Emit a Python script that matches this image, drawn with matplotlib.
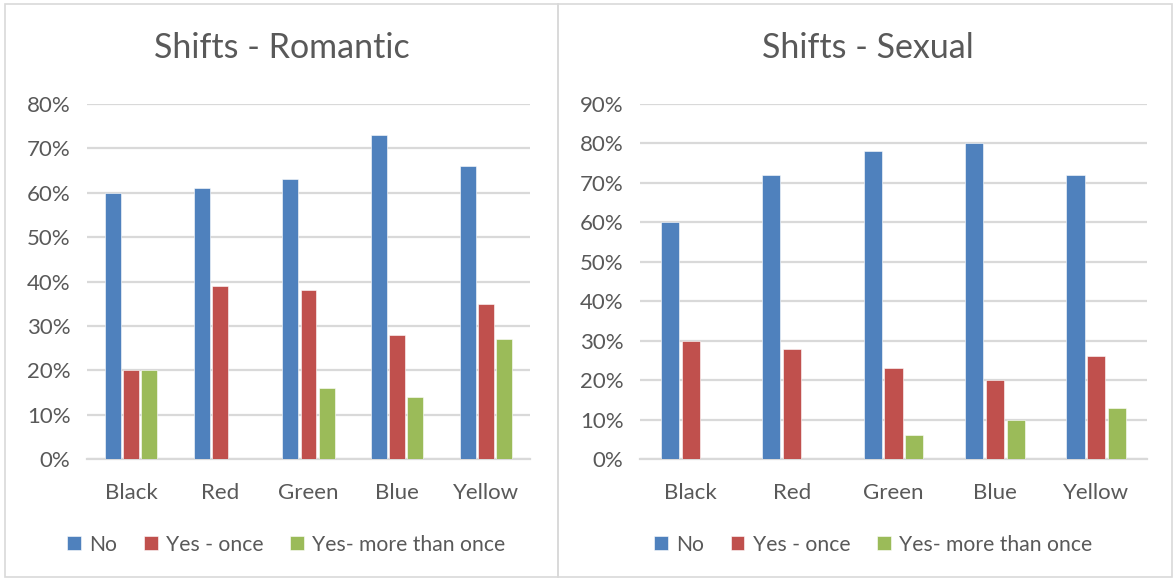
import matplotlib.pyplot as plt
import numpy as np
from matplotlib.patches import Rectangle
from matplotlib.ticker import FuncFormatter

categories = ['Black', 'Red', 'Green', 'Blue', 'Yellow']
series_names = ['No', 'Yes - once', 'Yes- more than once']

romantic_no = [60, 61, 63, 73, 66]
romantic_once = [20, 39, 38, 28, 35]
romantic_more = [20, 0, 16, 14, 27]

sexual_no = [60, 72, 78, 80, 72]
sexual_once = [30, 28, 23, 20, 26]
sexual_more = [0, 0, 6, 10, 13]

colors = ['#4F81BD', '#C0504D', '#9BBB59']
txt = '#595959'
grid = '#D9D9D9'

plt.rcParams['font.family'] = ['Lato', 'DejaVu Sans']

W, H = 1175, 578
fig = plt.figure(figsize=(W / 100, H / 100), dpi=100)


def px_axes(x0, y0, x1, y1):
    # pixel box (top-left origin) -> figure axes
    return fig.add_axes([x0 / W, 1 - y1 / H, (x1 - x0) / W, (y1 - y0) / H])


def draw_chart(ax, title, data, ymax, title_x, legend_x):
    x = np.arange(len(categories))
    w = 0.18
    for i, (vals, c) in enumerate(zip(data, colors)):
        ax.bar(x + (i - 1) * 0.205, vals, width=w, color=c, label=series_names[i],
               edgecolor='white', linewidth=0.4, zorder=3)
    ax.set_xlim(-0.5, len(categories) - 0.5)
    ax.set_ylim(0, ymax)
    ax.set_yticks(np.arange(0, ymax + 1, 10))
    ax.yaxis.set_major_formatter(FuncFormatter(lambda v, p: '%d%%' % v))
    ax.set_xticks(x)
    ax.set_xticklabels(categories)
    ax.grid(axis='y', color=grid, linewidth=1.6, zorder=0)
    for s in ['top', 'right', 'left']:
        ax.spines[s].set_visible(False)
    ax.spines['bottom'].set_color(grid)
    ax.spines['bottom'].set_linewidth(1.6)
    ax.tick_params(axis='both', length=0, labelsize=16, labelcolor=txt)
    ax.tick_params(axis='x', pad=17)
    ax.tick_params(axis='y', pad=12)
    fig.text(title_x / W, 1 - 48 / H, title, ha='center', va='center',
             fontsize=24.5, color=txt)
    ax.legend(loc='upper center', bbox_to_anchor=(legend_x, -0.16), ncol=3,
              frameon=False, fontsize=15.2, labelcolor=txt, handlelength=0.65,
              handleheight=0.65, handletextpad=0.4, columnspacing=1.25)


ax1 = px_axes(87, 104, 530, 459)
draw_chart(ax1, 'Shifts - Romantic', [romantic_no, romantic_once, romantic_more],
           80, 282, 0.45)

ax2 = px_axes(640, 104, 1147, 459)
draw_chart(ax2, 'Shifts - Sexual', [sexual_no, sexual_once, sexual_more],
           90, 868, 0.46)

# chart borders
for (x0, x1) in [(5, 558), (558, 1172)]:
    fig.patches.append(Rectangle((x0 / W, 1 / H), (x1 - x0) / W, (H - 5) / H,
                                 transform=fig.transFigure, fill=False,
                                 edgecolor=grid, linewidth=1.2))

fig.savefig('out.png', dpi=100)
